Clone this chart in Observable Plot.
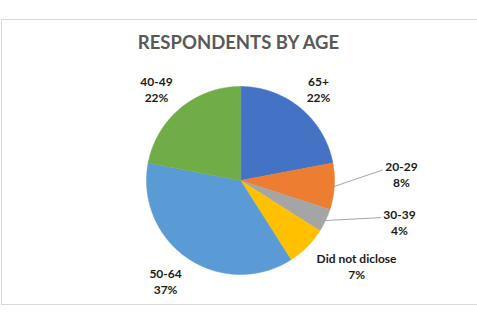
<!DOCTYPE html>
<html>
<head>
<meta charset="utf-8">
<script src="https://cdn.jsdelivr.net/npm/d3@7"></script>
<script src="https://cdn.jsdelivr.net/npm/@observablehq/plot@0.6"></script>
<style>
  html, body { margin: 0; padding: 0; background: #fff; overflow: hidden; }
  #chart svg { display: block; }
</style>
</head>
<body>
<div id="chart"></div>
<script>
// ---- data ----
const title = "RESPONDENTS BY AGE";
const categories = ["65+", "20-29", "30-39", "Did not diclose", "50-64", "40-49"];
const values = [22, 8, 4, 7, 37, 22];
const colors = ["#4472C4", "#ED7D31", "#A5A5A5", "#FFC000", "#5B9BD5", "#70AD47"];

// ---- label layout (polar, in pie radii / degrees clockwise from 12 o'clock) ----
const labelAngle = [40.3, 87.7, 104.5, 126.2, 216.7, 317.6];
const labelRadius = [1.283, 1.714, 1.747, 1.53, 1.334, 1.325];
const hasLeader = [false, true, true, false, false, false];

const R = 94, cx = 240, cy = 180;
const total = d3.sum(values);
const rad = a => a * Math.PI / 180;

// slice polygons
const rows = [];
let cum = 0;
const mids = [];
categories.forEach((cat, i) => {
  const a0 = cum / total * 360;
  const a1 = (cum + values[i]) / total * 360;
  mids.push((a0 + a1) / 2);
  cum += values[i];
  rows.push({cat, x: 0, y: 0});
  const n = Math.max(2, Math.ceil(a1 - a0) * 2);
  for (let k = 0; k <= n; k++) {
    const a = a0 + (a1 - a0) * k / n;
    rows.push({cat, x: Math.sin(rad(a)), y: Math.cos(rad(a))});
  }
});

// labels
const labels = categories.map((cat, i) => ({
  cat,
  text: `${cat}\n${values[i]}%`,
  x: labelRadius[i] * Math.sin(rad(labelAngle[i])),
  y: labelRadius[i] * Math.cos(rad(labelAngle[i]))
}));

// leader lines: rim point at slice middle -> elbow at left of label
const leaders = [];
categories.forEach((cat, i) => {
  if (!hasLeader[i]) return;
  const l = labels[i];
  leaders.push({cat, x: Math.sin(rad(mids[i])), y: Math.cos(rad(mids[i]))});
  leaders.push({cat, x: l.x - 19 / R, y: l.y + 4 / R});
});

const chart = Plot.plot({
  width: 477,
  height: 322,
  marginLeft: 1,
  marginTop: 19,
  marginRight: 0,
  marginBottom: 18,
  style: {background: "#fff", overflow: "visible"},
  x: {axis: null, domain: [-1, 1], range: [cx - R, cx + R]},
  y: {axis: null, domain: [-1, 1], range: [cy + R, cy - R]},
  color: {type: "ordinal", domain: categories, range: colors},
  marks: [
    Plot.frame({stroke: "#D9D9D9", insetRight: -6}),
    Plot.line(rows, {x: "x", y: "y", z: "cat", fill: "cat", stroke: "cat", strokeWidth: 0.5, curve: "linear-closed"}),
    Plot.line(leaders, {x: "x", y: "y", z: "cat", stroke: "#A6A6A6", strokeWidth: 1}),
    Plot.text(labels, {x: "x", y: "y", text: "text", fontFamily: "Lato", fontWeight: "bold", fontSize: 12, fill: "#1a1a1a", lineHeight: 1.35}),
    Plot.text([title], {frameAnchor: "top", dx: -1, dy: 16, text: d => d, fontFamily: "Lato", fontWeight: "bold", fontSize: 18.5, fill: "#595959"})
  ]
});
document.getElementById("chart").appendChild(chart);
</script>
</body>
</html>
